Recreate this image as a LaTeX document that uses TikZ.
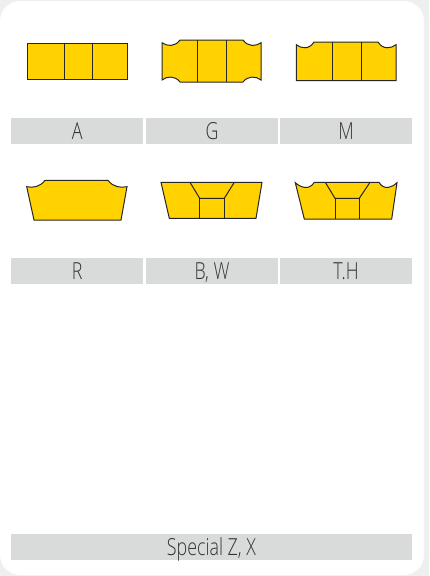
\documentclass[tikz,border=0pt]{standalone}
\usepackage{fontspec}
\usepackage{xcolor}
\setsansfont[FakeStretch=.76]{Open Sans Light}
\definecolor{insertyellow}{HTML}{FFD200}
\definecolor{captiongray}{HTML}{D9DBDA}
\definecolor{captiontext}{HTML}{333333}
\definecolor{pagegray}{HTML}{EEEFEF}
\usetikzlibrary{positioning}

\begin{document}
\begin{tikzpicture}[x=1pt,y=-1pt,
  ins/.style={draw=black!85,line width=1pt,fill=insertyellow,line join=miter},
  div/.style={draw=black!85,line width=1pt},
  caption/.style={fill=captiongray,text=captiontext,inner sep=0pt,minimum height=26pt,minimum width=132pt,
    text height=17pt,text depth=0pt,font=\sffamily\fontsize{23.5}{24}\selectfont}]
\useasboundingbox (0,0) rectangle (429,576);
\fill[pagegray] (0,0) rectangle (429,576);
\fill[white,rounded corners=20pt] (0,1) rectangle (424,575);
% top row
\draw[ins] (27,43.5) rectangle (127,79.5);
\foreach \x in {64,92}\draw[div] (\x,43.5)--(\x,79.5);
\draw[ins] (162,42.7) .. controls (167,46.5) and (175,47) .. (180,40) -- (243,40)
  .. controls (248,47) and (256,46.5) .. (261,42.7) -- (261,80)
  .. controls (256,76) and (248,75.5) .. (243,82) -- (180,82)
  .. controls (175,75.5) and (167,76) .. (162,80) -- cycle;
\foreach \x in {197.5,226}\draw[div] (\x,40)--(\x,82);
\draw[ins] (296.3,44.7) .. controls (301,48.5) and (309,50) .. (314,42) -- (378,42)
  .. controls (383,50) and (391,48.5) .. (396,44.7) -- (396,80.7) -- (296.3,80.7) -- cycle;
\foreach \x in {332.7,361}\draw[div] (\x,42)--(\x,80.7);
% second row
\draw[ins] (26.7,186.7) .. controls (33,188) and (40,187) .. (45,180.3) -- (108,180.3)
  .. controls (113,187) and (120,188) .. (127,186.7) -- (121,220) -- (34,220) -- cycle;
\draw[ins] (161,182.3) -- (262,182.3) -- (256,218.3) -- (169.3,218.3) -- cycle;
\draw[div] (190,182.3)--(199.7,198.3)--(224.3,198.3)--(234.3,182.3);
\draw[div] (199.7,198.3)--(199.7,218.3) (224.3,198.3)--(224.3,218.3);
\draw[ins] (295.3,182.7) .. controls (300,187) and (309,191) .. (314.3,182.3) -- (379,182.3)
  .. controls (384,191) and (393,187) .. (397,182.7) -- (391.7,219) -- (304.3,219) -- cycle;
\draw[div] (325.3,182.3)--(335,198.3)--(359.3,198.3)--(370,182.3);
\draw[div] (335,198.3)--(335,219) (359.3,198.3)--(359.3,219);
% captions
\node[caption] (capA) at (77.25,131) {A};
\node[caption] (capG) at (212,131) {G};
\node[caption] (capM) at (346,131) {M};
\node[caption] (capR) at (77.25,271) {R};
\node[caption] (capB) at (212,271) {B, W};
\node[caption] (capT) at (346,271) {T.H};
\node[caption,minimum width=401pt] (capS) at (211.5,547) {Special Z, X};
\end{tikzpicture}
\end{document}
